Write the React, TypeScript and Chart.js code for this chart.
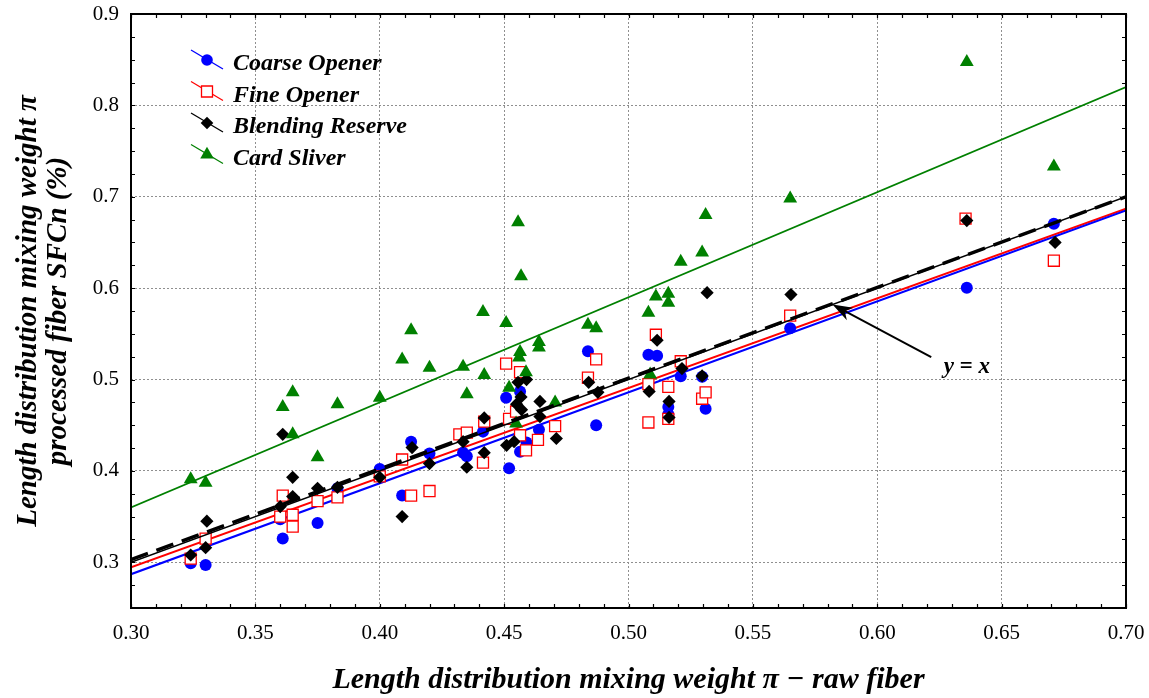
import React, { useEffect, useRef } from 'react';
import { Chart, registerables } from 'chart.js';

Chart.register(...registerables);

const FONT = "'Liberation Serif', 'Times New Roman', serif";

const seriesNames = ['Coarse Opener', 'Fine Opener', 'Blending Reserve', 'Card Sliver'];

// Coarse Opener (blue circles)
const coarseX = [0.324, 0.330, 0.360, 0.361, 0.375, 0.383, 0.400, 0.409, 0.4126, 0.420, 0.4335, 0.435, 0.4415, 0.4508, 0.452, 0.4564, 0.4564, 0.459, 0.464, 0.4837, 0.487, 0.508, 0.5115, 0.516, 0.516, 0.521, 0.5296, 0.531, 0.565, 0.636, 0.671];
const coarseY = [0.299, 0.297, 0.347, 0.326, 0.343, 0.381, 0.402, 0.373, 0.432, 0.419, 0.420, 0.416, 0.443, 0.480, 0.403, 0.487, 0.421, 0.431, 0.445, 0.531, 0.450, 0.527, 0.526, 0.470, 0.462, 0.5035, 0.503, 0.468, 0.556, 0.6005, 0.6705];

// Fine Opener (red open squares)
const fineX = [0.324, 0.330, 0.360, 0.361, 0.365, 0.365, 0.375, 0.383, 0.400, 0.409, 0.4126, 0.420, 0.432, 0.435, 0.4415, 0.442, 0.4508, 0.452, 0.4548, 0.4564, 0.4564, 0.4588, 0.4636, 0.4705, 0.4837, 0.487, 0.508, 0.508, 0.511, 0.516, 0.516, 0.521, 0.5296, 0.531, 0.565, 0.6355, 0.671];
const fineY = [0.304, 0.326, 0.350, 0.373, 0.352, 0.339, 0.367, 0.371, 0.394, 0.4125, 0.373, 0.378, 0.440, 0.442, 0.409, 0.454, 0.5175, 0.457, 0.465, 0.508, 0.439, 0.4225, 0.434, 0.449, 0.502, 0.522, 0.495, 0.453, 0.549, 0.492, 0.457, 0.520, 0.479, 0.486, 0.570, 0.676, 0.630];

// Blending Reserve (black diamonds)
const blendX = [0.324, 0.330, 0.3305, 0.360, 0.361, 0.365, 0.365, 0.375, 0.383, 0.400, 0.409, 0.413, 0.420, 0.4335, 0.435, 0.442, 0.442, 0.451, 0.454, 0.4556, 0.459, 0.4568, 0.455, 0.457, 0.4644, 0.4644, 0.471, 0.484, 0.4877, 0.5083, 0.5115, 0.5163, 0.5163, 0.5215, 0.5296, 0.5316, 0.5653, 0.636, 0.6715];
const blendY = [0.308, 0.316, 0.345, 0.361, 0.440, 0.393, 0.372, 0.381, 0.382, 0.393, 0.350, 0.4255, 0.408, 0.432, 0.404, 0.458, 0.420, 0.428, 0.432, 0.497, 0.500, 0.481, 0.473, 0.467, 0.476, 0.4595, 0.4355, 0.497, 0.486, 0.487, 0.543, 0.476, 0.4585, 0.512, 0.504, 0.595, 0.593, 0.674, 0.650];

// Card Sliver (green triangles)
const cardX = [0.324, 0.330, 0.361, 0.365, 0.365, 0.375, 0.383, 0.400, 0.409, 0.4126, 0.420, 0.4335, 0.435, 0.4415, 0.442, 0.4508, 0.452, 0.4548, 0.4556, 0.4564, 0.456, 0.4568, 0.4588, 0.464, 0.464, 0.4705, 0.4837, 0.487, 0.508, 0.5087, 0.511, 0.516, 0.516, 0.521, 0.5296, 0.531, 0.565, 0.636, 0.671];
const cardY = [0.391, 0.387, 0.470, 0.486, 0.440, 0.415, 0.473, 0.480, 0.522, 0.554, 0.513, 0.514, 0.484, 0.574, 0.505, 0.562, 0.491, 0.452, 0.672, 0.530, 0.524, 0.613, 0.508, 0.541, 0.535, 0.475, 0.560, 0.556, 0.573, 0.5055, 0.591, 0.594, 0.584, 0.629, 0.639, 0.680, 0.698, 0.8475, 0.733];

// Fitted lines (value at x = 0.30 and at x = 0.70)
const fitX = [0.30, 0.70];
const coarseFitY = [0.287, 0.685];
const fineFitY = [0.2945, 0.687];
const blendFitY = [0.303, 0.700];
const cardFitY = [0.360, 0.820];
const identityY = [0.30, 0.70];

// Axis ticks
const xTickValues = [0.30, 0.35, 0.40, 0.45, 0.50, 0.55, 0.60, 0.65, 0.70];
const yTickValues = [0.3, 0.4, 0.5, 0.6, 0.7, 0.8, 0.9];
const xRange = [0.30, 0.70];
const yRange = [0.25, 0.90];
const xMinorStep = 0.01;
const yMinorStep = 0.025;

// Annotation "y = x" (data coordinates)
const arrowTip = [0.582, 0.582];
const arrowTail = [0.6217, 0.5246];
const labelPos = [0.636, 0.5135];
const annotationText = 'y = x';

const xTitle = 'Length distribution mixing weight π − raw fiber';
const yTitle = ['Length distribution mixing weight π', 'processed fiber SFCn (%)'];

const BLUE = '#0000ff';
const RED = '#ff0000';
const BLACK = '#000000';
const GREEN = '#008000';

const zip = (xs: number[], ys: number[]) => xs.map((x, i) => ({ x, y: ys[i] }));

function drawLegendMarker(ctx: CanvasRenderingContext2D, kind: number, x: number, y: number) {
  ctx.save();
  ctx.beginPath();
  if (kind === 0) {
    ctx.fillStyle = BLUE;
    ctx.arc(x, y, 5.8, 0, Math.PI * 2);
    ctx.fill();
  } else if (kind === 1) {
    ctx.fillStyle = '#ffffff';
    ctx.strokeStyle = RED;
    ctx.lineWidth = 1.3;
    ctx.rect(x - 5.5, y - 5.5, 11, 11);
    ctx.fill();
    ctx.stroke();
  } else if (kind === 2) {
    ctx.fillStyle = BLACK;
    ctx.moveTo(x - 6.3, y);
    ctx.lineTo(x, y - 6.3);
    ctx.lineTo(x + 6.3, y);
    ctx.lineTo(x, y + 6.3);
    ctx.closePath();
    ctx.fill();
  } else {
    ctx.fillStyle = GREEN;
    const r = 7.8;
    ctx.moveTo(x, y - r);
    ctx.lineTo(x + r * Math.sin((2 * Math.PI) / 3), y - r * Math.cos((2 * Math.PI) / 3));
    ctx.lineTo(x + r * Math.sin((4 * Math.PI) / 3), y - r * Math.cos((4 * Math.PI) / 3));
    ctx.closePath();
    ctx.fill();
  }
  ctx.restore();
}

const overlayPlugin = {
  id: 'overlay',
  afterDatasetsDraw(chart: any) {
    const { ctx, chartArea } = chart;
    const xs = chart.scales.x;
    const ys = chart.scales.y;
    const { left, right, top, bottom } = chartArea;
    ctx.save();
    // minor/major inward ticks on all four sides
    ctx.strokeStyle = '#000';
    ctx.lineWidth = 1.2;
    ctx.beginPath();
    const nx = Math.round((xRange[1] - xRange[0]) / xMinorStep);
    for (let i = 0; i <= nx; i++) {
      const v = xRange[0] + i * xMinorStep;
      const px = Math.round(xs.getPixelForValue(v)) + 0.5;
      ctx.moveTo(px, bottom);
      ctx.lineTo(px, bottom - 4);
      ctx.moveTo(px, top);
      ctx.lineTo(px, top + 4);
    }
    const ny = Math.round((yRange[1] - yRange[0]) / yMinorStep);
    for (let i = 0; i <= ny; i++) {
      const v = yRange[0] + i * yMinorStep;
      const py = Math.round(ys.getPixelForValue(v)) + 0.5;
      ctx.moveTo(left, py);
      ctx.lineTo(left + 4, py);
      ctx.moveTo(right, py);
      ctx.lineTo(right - 4, py);
    }
    ctx.stroke();
    // frame
    ctx.lineWidth = 2;
    ctx.strokeRect(left, top, right - left, bottom - top);
    ctx.restore();
  },
  afterDraw(chart: any) {
    const { ctx } = chart;
    const xs = chart.scales.x;
    const ys = chart.scales.y;
    ctx.save();
    // legend
    const colors = [BLUE, RED, BLACK, GREEN];
    const rowY = [60, 91.5, 123, 154.5];
    for (let i = 0; i < 4; i++) {
      const cy = rowY[i];
      ctx.strokeStyle = colors[i];
      ctx.lineWidth = 1.3;
      ctx.beginPath();
      ctx.moveTo(191, cy - 10);
      ctx.lineTo(223, cy + 9);
      ctx.stroke();
      drawLegendMarker(ctx, i, 207, cy);
      ctx.fillStyle = '#000';
      ctx.font = `italic bold 24px ${FONT}`;
      ctx.textAlign = 'left';
      ctx.textBaseline = 'middle';
      ctx.fillText(seriesNames[i], 233, cy + 4);
    }
    // arrow annotation
    const tx = xs.getPixelForValue(arrowTip[0]);
    const ty = ys.getPixelForValue(arrowTip[1]);
    const sx = xs.getPixelForValue(arrowTail[0]);
    const sy = ys.getPixelForValue(arrowTail[1]);
    const dx = tx - sx;
    const dy = ty - sy;
    const len = Math.hypot(dx, dy);
    const ux = dx / len;
    const uy = dy / len;
    const nxv = -uy;
    const nyv = ux;
    const L = 20;
    const W = 7;
    ctx.strokeStyle = '#000';
    ctx.lineWidth = 2;
    ctx.beginPath();
    ctx.moveTo(sx, sy);
    ctx.lineTo(tx - ux * L * 0.6, ty - uy * L * 0.6);
    ctx.stroke();
    ctx.fillStyle = '#000';
    ctx.beginPath();
    ctx.moveTo(tx, ty);
    ctx.lineTo(tx - ux * L + nxv * W, ty - uy * L + nyv * W);
    ctx.lineTo(tx - ux * L * 0.7, ty - uy * L * 0.7);
    ctx.lineTo(tx - ux * L - nxv * W, ty - uy * L - nyv * W);
    ctx.closePath();
    ctx.fill();
    ctx.font = `italic bold 23px ${FONT}`;
    ctx.textAlign = 'center';
    ctx.textBaseline = 'middle';
    ctx.fillText(annotationText, xs.getPixelForValue(labelPos[0]), ys.getPixelForValue(labelPos[1]));
    ctx.restore();
  },
};

export default function App() {
  const canvasRef = useRef<HTMLCanvasElement | null>(null);

  useEffect(() => {
    if (!canvasRef.current) return;
    const lineDs = (label: string, ys: number[], color: string, width: number, dash: number[], order: number) => ({
      label,
      type: 'scatter' as const,
      data: zip(fitX, ys),
      showLine: true,
      borderColor: color,
      borderWidth: width,
      borderDash: dash,
      pointRadius: 0,
      pointHoverRadius: 0,
      fill: false,
      order,
    });
    const chart = new Chart(canvasRef.current, {
      type: 'scatter',
      data: {
        datasets: [
          {
            label: seriesNames[3],
            data: zip(cardX, cardY),
            pointStyle: 'triangle',
            pointRadius: 8,
            backgroundColor: GREEN,
            borderColor: GREEN,
            borderWidth: 0,
            order: 1,
          },
          {
            label: seriesNames[2],
            data: zip(blendX, blendY),
            pointStyle: 'rectRot',
            pointRadius: 6.6,
            backgroundColor: BLACK,
            borderColor: BLACK,
            borderWidth: 0,
            order: 2,
          },
          {
            label: seriesNames[1],
            data: zip(fineX, fineY),
            pointStyle: 'rect',
            pointRadius: 7.8,
            backgroundColor: '#ffffff',
            borderColor: RED,
            borderWidth: 1.3,
            order: 3,
          },
          {
            label: seriesNames[0],
            data: zip(coarseX, coarseY),
            pointStyle: 'circle',
            pointRadius: 6,
            backgroundColor: BLUE,
            borderColor: BLUE,
            borderWidth: 0,
            order: 4,
          },
          lineDs('y = x', identityY, BLACK, 1.6, [], 0),
          lineDs('Blending Reserve fit', blendFitY, BLACK, 3.4, [18, 9], 0),
          lineDs('Coarse Opener fit', coarseFitY, BLUE, 2, [], 5),
          lineDs('Fine Opener fit', fineFitY, RED, 2, [], 5),
          lineDs('Card Sliver fit', cardFitY, GREEN, 1.6, [], 5),
        ] as any,
      },
      options: {
        animation: false,
        responsive: false,
        devicePixelRatio: 1,
        layout: { padding: { top: 14, right: 23, bottom: 0, left: 0 } },
        plugins: {
          legend: { display: false },
          tooltip: { enabled: false },
        },
        scales: {
          x: {
            type: 'linear',
            min: xRange[0],
            max: xRange[1],
            afterBuildTicks: (scale: any) => {
              scale.ticks = xTickValues.map((v) => ({ value: v }));
            },
            afterFit: (scale: any) => {
              scale.height = 90;
              scale.paddingLeft = 0;
              scale.paddingRight = 0;
            },
            ticks: {
              autoSkip: false,
              maxRotation: 0,
              color: '#000',
              padding: 13,
              font: { family: FONT, size: 21 },
              callback: (v: any) => Number(v).toFixed(2),
            },
            grid: {
              drawTicks: false,
              lineWidth: 1,
              color: (c: any) => {
                const v = c.tick ? c.tick.value : 0;
                return Math.abs(v - xRange[0]) < 1e-9 || Math.abs(v - xRange[1]) < 1e-9 ? 'rgba(0,0,0,0)' : '#8f8f8f';
              },
            },
            border: { display: false, dash: [2, 2] },
            title: {
              display: true,
              text: xTitle,
              color: '#000',
              font: { family: FONT, size: 30, style: 'italic', weight: 'bold', lineHeight: 1.2 },
              padding: { top: 0, bottom: 0 },
            },
          },
          y: {
            type: 'linear',
            min: yRange[0],
            max: yRange[1],
            afterBuildTicks: (scale: any) => {
              scale.ticks = yTickValues.map((v) => ({ value: v }));
            },
            afterFit: (scale: any) => {
              scale.width = 131;
              scale.paddingTop = 0;
              scale.paddingBottom = 0;
            },
            ticks: {
              autoSkip: false,
              color: '#000',
              padding: 12,
              font: { family: FONT, size: 21 },
              callback: (v: any) => Number(v).toFixed(1),
            },
            grid: {
              drawTicks: false,
              lineWidth: 1,
              color: (c: any) => {
                const v = c.tick ? c.tick.value : 0;
                return Math.abs(v - yRange[1]) < 1e-9 ? 'rgba(0,0,0,0)' : '#8f8f8f';
              },
            },
            border: { display: false, dash: [2, 2] },
            title: {
              display: true,
              text: yTitle,
              color: '#000',
              font: { family: FONT, size: 29, style: 'italic', weight: 'bold', lineHeight: 1.05 },
              padding: { top: 13, bottom: 0 },
            },
          },
        },
      },
      plugins: [overlayPlugin],
    });
    return () => chart.destroy();
  }, []);

  return (
    <div style={{ position: 'absolute', left: 0, top: 0, width: 1149, height: 698, background: '#fff' }}>
      <canvas ref={canvasRef} width={1149} height={698} style={{ display: 'block' }} />
    </div>
  );
}
